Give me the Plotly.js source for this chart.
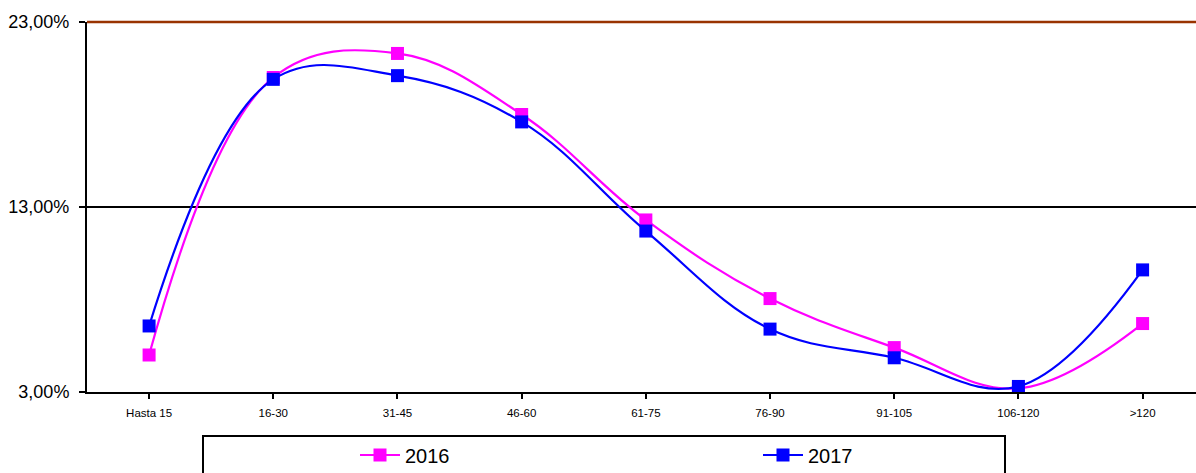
<!DOCTYPE html>
<html>
<head>
<meta charset="utf-8">
<script src="https://cdn.plot.ly/plotly-3.0.1.min.js"></script>
<style>html,body{margin:0;padding:0;background:#fff;}#chart{width:1196px;height:473px;}</style>
</head>
<body>
<div id="chart"></div>
<script>
const categories = ["Hasta 15", "16-30", "31-45", "46-60", "61-75", "76-90", "91-105", "106-120", ">120"];
const values2016 = [5.0, 20.0, 21.3, 18.0, 12.3, 8.05, 5.4, 3.2, 6.7];
const values2017 = [6.57, 19.9, 20.1, 17.6, 11.7, 6.4, 4.85, 3.3, 9.6];
const yTickVals = [3, 13, 23];
const yTickText = ["3,00%", "13,00%", "23,00%"];

const W = 1196, H = 473;
const mL = 87, mR = 0, mT = 22, mB = 81;
const plotW = W - mL - mR, plotH = H - mT - mB;
const px = x => (x - mL) / plotW;
const py = y => (H - mB - y) / plotH;
const yMin = yTickVals[0], yMax = yTickVals[yTickVals.length - 1];

const idx = categories.map((c, i) => i);

const traces = [
  {
    x: idx, y: values2016, name: "2016", type: "scatter", mode: "lines+markers",
    line: {color: "#ff00ff", width: 2.2, shape: "spline", smoothing: 1.1},
    marker: {symbol: "square", size: 13, color: "#ff00ff"}
  },
  {
    x: idx, y: values2017, name: "2017", type: "scatter", mode: "lines+markers",
    line: {color: "#0000ff", width: 2.2, shape: "spline", smoothing: 1.1},
    marker: {symbol: "square", size: 13, color: "#0000ff"}
  }
];

const layout = {
  width: W, height: H,
  margin: {l: mL, r: mR, t: mT, b: mB, pad: 0, autoexpand: false},
  paper_bgcolor: "#fff", plot_bgcolor: "#fff",
  font: {family: "Liberation Sans, Arial, sans-serif", color: "#000"},
  showlegend: true,
  legend: {
    orientation: "h", x: px(355), xanchor: "left", y: py(455), yanchor: "middle",
    entrywidth: 348, entrywidthmode: "pixels",
    font: {size: 20, color: "#000"}, bgcolor: "rgba(0,0,0,0)", borderwidth: 0,
    itemwidth: 40
  },
  xaxis: {
    range: [-0.5, 8.43], tickmode: "array", tickvals: idx, ticktext: categories,
    tickson: "boundaries", ticks: "outside", ticklen: 5, tickwidth: 2, tickcolor: "#000",
    showline: true, linecolor: "#000", linewidth: 2, showgrid: false, zeroline: false,
    tickfont: {size: 11.5, color: "#000"}, ticklabelstandoff: 4, fixedrange: true
  },
  yaxis: {
    range: [yMin, yMax], tickmode: "array", tickvals: yTickVals, ticktext: yTickText,
    ticks: "outside", ticklen: 6, tickwidth: 2, tickcolor: "#000",
    showline: true, linecolor: "#000", linewidth: 2,
    showgrid: true, gridcolor: "#000", gridwidth: 2, zeroline: false,
    tickfont: {size: 18, color: "#000"}, ticklabelstandoff: 6, fixedrange: true
  },
  shapes: [
    {type: "line", xref: "paper", yref: "paper", x0: 0, x1: 1, y0: 1, y1: 1,
     line: {color: "#993300", width: 2.5}, layer: "above"},
    {type: "rect", xref: "paper", yref: "paper", x0: px(203), x1: px(1005), y0: py(436), y1: py(480),
     line: {color: "#000", width: 2}, fillcolor: "rgba(0,0,0,0)"}
  ]
};

Plotly.newPlot("chart", traces, layout, {displayModeBar: false, staticPlot: true});
</script>
</body>
</html>
